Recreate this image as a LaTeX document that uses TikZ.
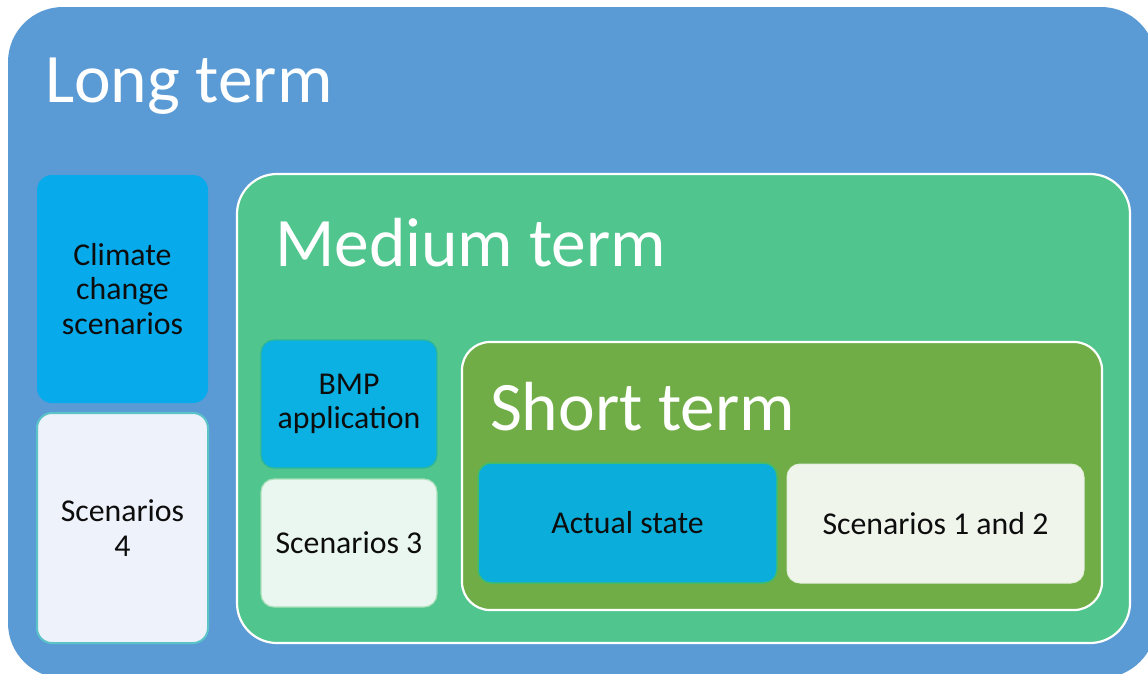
\documentclass[tikz,border=0pt]{standalone}
\usepackage{fontspec}
\setmainfont{Carlito}
\definecolor{longblue}{HTML}{5B9BD5}
\definecolor{medgreen}{HTML}{50C58D}
\definecolor{shortgreen}{HTML}{70AD47}
\definecolor{climblue}{HTML}{07AAEB}
\definecolor{bmpblue}{HTML}{0BB1E2}
\definecolor{actblue}{HTML}{0BAEDB}
\definecolor{scfour}{HTML}{EEF2FA}
\definecolor{scfourline}{HTML}{5BC4C8}
\definecolor{scthree}{HTML}{EAF7F0}
\definecolor{sconetwo}{HTML}{F0F5EC}
\definecolor{faintgreen}{HTML}{44BB66}
\tikzset{
  box/.style={anchor=north west, inner sep=0pt, outer sep=0pt, align=center,
    font=\fontsize{31.8}{34.5}\selectfont, text=black!95},
  titletext/.style={anchor=base west, inner sep=0pt, outer sep=0pt, text=white,
    font=\fontsize{69.5}{80}\selectfont},
}
\begin{document}
\begin{tikzpicture}[x=1pt,y=-1pt]
\useasboundingbox (0,0) rectangle (1148,673);
\clip (0,0) rectangle (1148,673);
\fill[white] (0,0) rectangle (1148,673);
% outer: long term
\node[box, fill=longblue, rounded corners=55pt, minimum width=1148pt, minimum height=671pt] (outer) at (8,7) {};
\node[titletext] (longt) at (45,102) {Long term};
% left column
\node[box, fill=climblue, rounded corners=15pt, minimum width=171pt, minimum height=228pt] (climate) at (37,175) {Climate\\change\\scenarios};
\node[box, fill=scfour, draw=scfourline, line width=2pt, rounded corners=15pt, minimum width=171pt, minimum height=230pt] (scfournode) at (37,413) {Scenarios\\4};
% medium term
\node[box, fill=medgreen, draw=white, line width=2.2pt, rounded corners=40pt, minimum width=893pt, minimum height=469pt] (medium) at (237,174) {};
\node[titletext] (medt) at (275,266) {Medium term};
\node[box, fill=bmpblue, draw=faintgreen!60!bmpblue, line width=1.2pt, rounded corners=13pt, minimum width=176pt, minimum height=128pt] (bmp) at (261,340) {BMP\\application};
\node[box, fill=scthree, draw=faintgreen!40!scthree, line width=1.2pt, rounded corners=13pt, minimum width=176pt, minimum height=128pt] (scthreenode) at (261,479) {Scenarios 3};
% short term
\node[box, fill=shortgreen, draw=white, line width=2.2pt, rounded corners=28pt, minimum width=640pt, minimum height=268pt] (short) at (462,342) {};
\node[titletext] (shortt) at (490,430) {Short term};
\node[box, fill=actblue, draw=faintgreen, line width=1.5pt, rounded corners=13pt, minimum width=299pt, minimum height=120pt] (actual) at (478,463) {Actual state};
\node[box, fill=sconetwo, draw=white!80!shortgreen, line width=1pt, rounded corners=13pt, minimum width=297pt, minimum height=119pt] (sconetwonode) at (787,464) {Scenarios 1 and 2};
\end{tikzpicture}
\end{document}
